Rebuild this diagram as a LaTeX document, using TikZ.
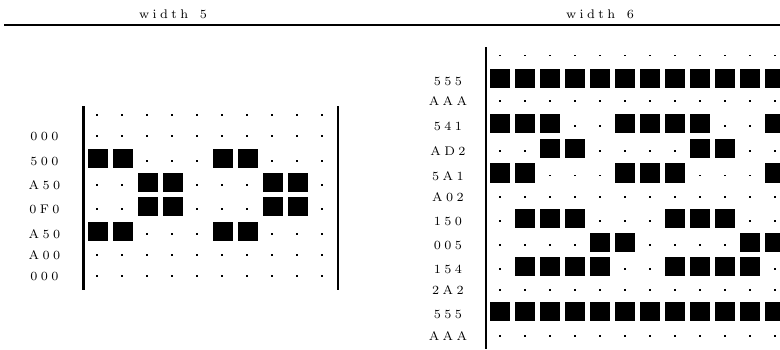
\documentclass[tikz,border=0pt]{standalone}
\font\labfont=cmr7 at 12.5pt
\newlength\lsp \setlength\lsp{3.4pt}
\newcommand\spc[3]{#1\kern\lsp#2\kern\lsp#3}
\begin{document}
\begin{tikzpicture}[x=1pt,y=-1pt,
  lbl/.style={inner sep=0pt,anchor=base,font=\labfont},
  bar/.style={line width=2.2pt},
  rule/.style={line width=2.2pt}]
\useasboundingbox (0,0) rectangle (780,349);
\clip (0,0) rectangle (780,349);
% titles and rule
\node[lbl] (t5) at (173,18) {w\kern\lsp i\kern\lsp d\kern\lsp t\kern\lsp h\kern\lsp\ \kern\lsp 5};
\node[lbl] (t6) at (600,18) {w\kern\lsp i\kern\lsp d\kern\lsp t\kern\lsp h\kern\lsp\ \kern\lsp 6};
\draw[rule] (4,25) -- (780,25);
% left panel bars
\draw[bar] (83.4,106) -- (83.4,290);
\draw[bar] (337.8,106) -- (337.8,290);
% right panel bar
\draw[bar] (486,47) -- (486,349);
% left panel rows: y / label / pattern
\foreach \yy/\lab/\pat [count=\r] in {
  115/{}/{0,0,0,0,0,0,0,0,0,0},
  136/{\spc 000}/{0,0,0,0,0,0,0,0,0,0},
  161/{\spc 500}/{1,1,0,0,0,1,1,0,0,0},
  185/{\spc A50}/{0,0,1,1,0,0,0,1,1,0},
  209/{\spc 0F0}/{0,0,1,1,0,0,0,1,1,0},
  234/{\spc A50}/{1,1,0,0,0,1,1,0,0,0},
  255/{\spc A00}/{0,0,0,0,0,0,0,0,0,0},
  276/{\spc 000}/{0,0,0,0,0,0,0,0,0,0}}{
  \node[lbl] (l\r) at (44.5,\yy+4.5) {\lab};
  \foreach \b [count=\c from 0] in \pat {
    \pgfmathsetmacro\xx{97+25*\c}
    \ifnum\b=1
      \fill (\xx+1-9.75,\yy-2.5-9.75) rectangle +(19.5,19.5);
    \else
      \fill (\xx-0.9,\yy-0.9) rectangle +(1.8,1.8);
    \fi
  }
}
% right panel rows
\foreach \yy/\lab/\pat [count=\r] in {
  55.5/{}/{0,0,0,0,0,0,0,0,0,0,0,0},
  81/{\spc 555}/{1,1,1,1,1,1,1,1,1,1,1,1},
  101/{\spc AAA}/{0,0,0,0,0,0,0,0,0,0,0,0},
  126/{\spc 541}/{1,1,1,0,0,1,1,1,1,0,0,1},
  151/{\spc AD2}/{0,0,1,1,0,0,0,0,1,1,0,0},
  175.5/{\spc 5A1}/{1,1,0,0,0,1,1,1,0,0,0,1},
  196.7/{\spc A02}/{0,0,0,0,0,0,0,0,0,0,0,0},
  221/{\spc 150}/{0,1,1,1,0,0,0,1,1,1,0,0},
  245/{\spc 005}/{0,0,0,0,1,1,0,0,0,0,1,1},
  269/{\spc 154}/{0,1,1,1,1,0,0,1,1,1,1,0},
  290/{\spc 2A2}/{0,0,0,0,0,0,0,0,0,0,0,0},
  314/{\spc 555}/{1,1,1,1,1,1,1,1,1,1,1,1},
  336/{\spc AAA}/{0,0,0,0,0,0,0,0,0,0,0,0}}{
  \node[lbl] (r\r) at (448,\yy+4.5) {\lab};
  \foreach \b [count=\c from 0] in \pat {
    \pgfmathsetmacro\xx{499.7+25*\c}
    \ifnum\b=1
      \fill (\xx+0.5-9.75,\yy-2.5-9.75) rectangle +(19.5,19.5);
    \else
      \fill (\xx-0.9,\yy-0.9) rectangle +(1.8,1.8);
    \fi
  }
}
\end{tikzpicture}
\end{document}
